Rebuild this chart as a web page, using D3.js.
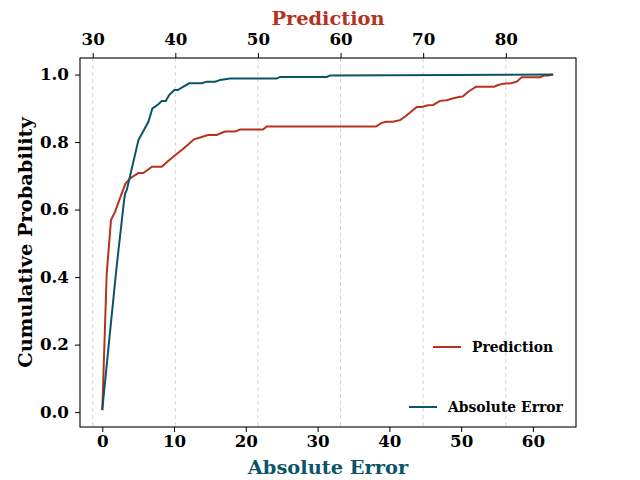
<!DOCTYPE html>
<html>
<head>
<meta charset="utf-8">
<script src="https://cdn.jsdelivr.net/npm/d3@7"></script>
<style>
  body { margin: 0; background: #fff; }
  svg text { font-family: "DejaVu Serif", serif; font-weight: bold; }
</style>
</head>
<body>
<svg id="chart"></svg>
<script>
// ECDF of the absolute error (bottom axis)
const errorX = [0, 1, 2, 3, 3.19, 3.42, 5.04, 6.43, 6.99, 7.82, 8.30, 8.85, 9.31, 10.05, 10.52, 11.08, 12.10, 13.87, 14.56, 15.72, 16.18, 16.41, 17.81, 24.31, 24.77, 31.27, 31.73, 62.77];
const errorP = [0.006, 0.22, 0.43, 0.62, 0.648, 0.658, 0.806, 0.860, 0.900, 0.912, 0.922, 0.922, 0.939, 0.954, 0.954, 0.961, 0.974, 0.974, 0.979, 0.979, 0.982, 0.984, 0.988, 0.988, 0.993, 0.993, 0.997, 1.0];

// ECDF of the prediction (top axis)
const predX = [31.16, 31.69, 32.21, 32.70, 33.30, 33.97, 34.51, 35.52, 36.12, 37.18, 38.35, 38.99, 39.96, 40.97, 42.26, 43.19, 43.96, 45.01, 46.01, 47.22, 47.83, 50.61, 51.06, 64.29, 64.96, 65.59, 66.31, 67.19, 67.80, 69.22, 69.82, 70.58, 71.22, 72.04, 72.85, 73.65, 74.46, 74.78, 75.46, 76.39, 78.57, 79.09, 79.70, 80.63, 81.32, 81.92, 84.14, 84.62, 85.14, 85.75];
const predP = [0.006, 0.409, 0.569, 0.593, 0.634, 0.677, 0.692, 0.708, 0.708, 0.727, 0.727, 0.741, 0.761, 0.780, 0.808, 0.815, 0.821, 0.821, 0.831, 0.831, 0.837, 0.837, 0.846, 0.846, 0.857, 0.860, 0.860, 0.865, 0.875, 0.904, 0.904, 0.909, 0.910, 0.922, 0.924, 0.930, 0.934, 0.935, 0.949, 0.964, 0.964, 0.969, 0.973, 0.974, 0.979, 0.992, 0.992, 0.997, 0.997, 1.0];

const bottomTicks = [0, 10, 20, 30, 40, 50, 60];
const topTicks = [30, 40, 50, 60, 70, 80];
const yTicks = [0, 0.2, 0.4, 0.6, 0.8, 1.0];

const red = "#b5321e";
const teal = "#0b5468";

const width = 640, height = 480;
const margin = { top: 58, right: 64, bottom: 53, left: 80 };
const w = width - margin.left - margin.right;
const h = height - margin.top - margin.bottom;

const svg = d3.select("#chart").attr("width", width).attr("height", height);
const g = svg.append("g").attr("transform", `translate(${margin.left},${margin.top})`);

const xBottom = d3.scaleLinear().domain([-3.1, 66.0]).range([0, w]);
const xTop = d3.scaleLinear().domain([28.46, 88.5]).range([0, w]);
const y = d3.scaleLinear().domain([-0.044, 1.049]).range([h, 0]);

// dashed grid from the top axis
g.append("g")
  .selectAll("line")
  .data(topTicks)
  .join("line")
  .attr("x1", d => xTop(d)).attr("x2", d => xTop(d))
  .attr("y1", 0).attr("y2", h)
  .attr("stroke", "#d6d6d6")
  .attr("stroke-width", 1)
  .attr("stroke-dasharray", "4,3");

const errLine = d3.line()
  .x((d, i) => xBottom(errorX[i]))
  .y(d => y(d));
const predLine = d3.line()
  .x((d, i) => xTop(predX[i]))
  .y(d => y(d));

g.append("path").datum(predP)
  .attr("d", predLine)
  .attr("fill", "none").attr("stroke", red).attr("stroke-width", 2);

g.append("path").datum(errorP)
  .attr("d", errLine)
  .attr("fill", "none").attr("stroke", teal).attr("stroke-width", 2);

function styleAxis(sel) {
  sel.select(".domain").remove();
  sel.selectAll(".tick line").attr("stroke", "#000").attr("stroke-width", 1);
  sel.selectAll(".tick text").attr("fill", "#000").style("font-size", "16.7px")
    .style("font-family", "DejaVu Serif").style("font-weight", "bold");
}

g.append("g")
  .attr("transform", `translate(0,${h})`)
  .call(d3.axisBottom(xBottom).tickValues(bottomTicks).tickFormat(d3.format("d")).tickSize(5).tickPadding(3))
  .call(styleAxis);

g.append("g")
  .call(d3.axisTop(xTop).tickValues(topTicks).tickFormat(d3.format("d")).tickSize(5).tickPadding(8))
  .call(styleAxis);

g.append("g")
  .call(d3.axisLeft(y).tickValues(yTicks).tickFormat(d3.format(".1f")).tickSize(5).tickPadding(6))
  .call(styleAxis);

// frame
g.append("rect")
  .attr("width", w).attr("height", h)
  .attr("fill", "none").attr("stroke", "#000").attr("stroke-width", 1.1);

// axis titles
svg.append("text")
  .attr("x", margin.left + w / 2).attr("y", 474)
  .attr("text-anchor", "middle")
  .attr("fill", teal)
  .style("font-size", "19.4px")
  .text("Absolute Error");

svg.append("text")
  .attr("x", margin.left + w / 2).attr("y", 25)
  .attr("text-anchor", "middle")
  .attr("fill", red)
  .style("font-size", "19.4px")
  .text("Prediction");

svg.append("text")
  .attr("transform", `translate(32,${margin.top + h / 2}) rotate(-90)`)
  .attr("text-anchor", "middle")
  .attr("fill", "#000")
  .style("font-size", "19.4px")
  .text("Cumulative Probability");

// legends (one per axis, no frame)
const legends = [
  { label: "Prediction", color: red, x: 433, y: 347 },
  { label: "Absolute Error", color: teal, x: 409, y: 407 }
];
const leg = svg.append("g").selectAll("g").data(legends).join("g")
  .attr("transform", d => `translate(${d.x},${d.y})`);
leg.append("line")
  .attr("x1", 0).attr("x2", 28).attr("y1", 0).attr("y2", 0)
  .attr("stroke", d => d.color).attr("stroke-width", 2);
leg.append("text")
  .attr("x", 39).attr("y", 0).attr("dy", "0.35em")
  .attr("fill", "#000")
  .style("font-size", "13.9px")
  .text(d => d.label);
</script>
</body>
</html>
